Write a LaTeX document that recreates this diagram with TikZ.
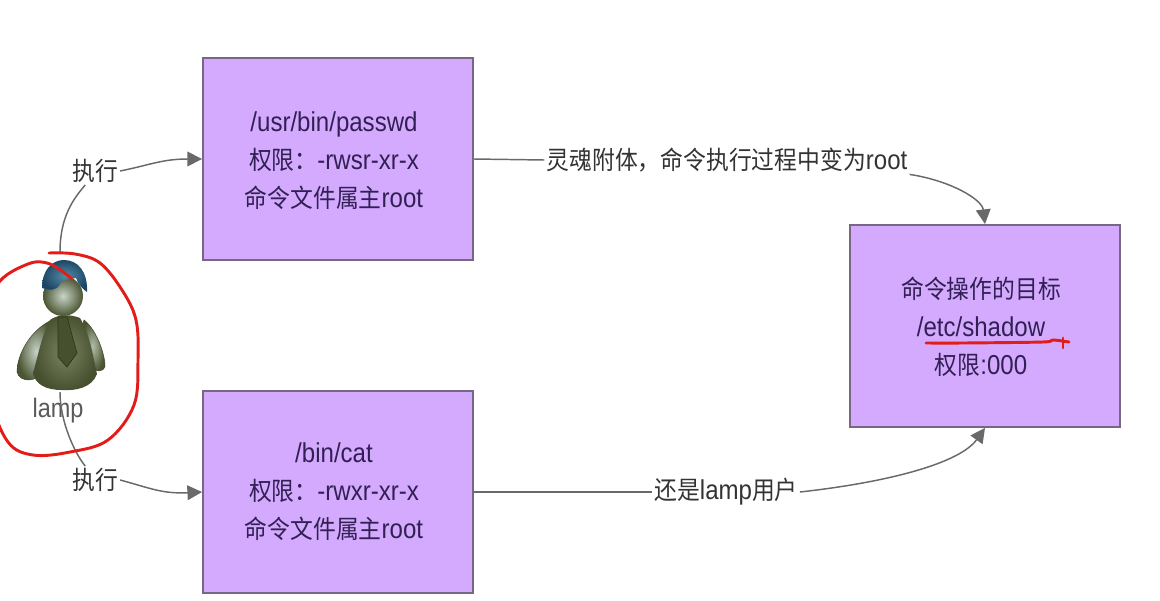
\documentclass[tikz,border=0pt]{standalone}
\usepackage{fontspec}
\setmainfont[FakeStretch=0.88]{Liberation Sans}
\newfontfamily\cjk[FakeStretch=0.9]{Noto Sans CJK SC}
\usetikzlibrary{arrows.meta}
\definecolor{boxfill}{RGB}{212,170,255}
\definecolor{boxline}{RGB}{118,104,130}
\definecolor{boxtext}{RGB}{50,32,84}
\definecolor{linkgray}{RGB}{105,105,105}
\definecolor{penred}{RGB}{226,28,24}
\definecolor{olive}{RGB}{88,100,58}
\definecolor{hairlight}{RGB}{84,140,165}
\definecolor{hairdark}{RGB}{28,70,100}
\definecolor{skinlight}{RGB}{200,212,200}
\tikzset{
  permbox/.style={draw=boxline,line width=1.4pt,fill=boxfill,minimum width=202.5pt,minimum height=151.5pt,inner sep=0pt},
  permtext/.style={text=boxtext,align=center,inner sep=0pt,font=\fontsize{20.5}{28.5}\selectfont},
  linklabel/.style={text=black!80,inner sep=1.5pt,font=\fontsize{20.5}{20}\selectfont},
  link/.style={draw=linkgray,line width=1.1pt},
  linktip/.style={link,-{Triangle[length=11pt,width=11pt]}},
  penstroke/.style={draw=penred,line width=2.2pt,line cap=round,line join=round},
}
\newcommand{\zh}[1]{{\cjk\fontsize{19}{28.5}\selectfont #1}}
\begin{document}
\begin{tikzpicture}[x=0.75pt,y=0.75pt,yscale=-1,xscale=1]
\clip (0,0) rectangle (1160,600);

% Boxes
\node[permbox] (passwd) at (338,159) {};
\node[permbox] (cat) at (338,492) {};
\node[permbox] (shadow) at (985,326) {};
\node[permtext] (passwdtext) at (334,161) {/usr/bin/passwd\\\zh{权限：}-rwsr-xr-x\\\zh{命令文件属主}root};
\node[permtext] (cattext) at (334,492) {/bin/cat\\\zh{权限：}-rwxr-xr-x\\\zh{命令文件属主}root};
\node[permtext] (shadowtext) at (981,327) {\zh{命令操作的目标}\\/etc/shadow\\\zh{权限}:000};

% Labels
\node[linklabel] (runup) at (95,171) {\zh{执行}};
\node[linklabel] (rundown) at (95,480) {\zh{执行}};
\node[linklabel] (soul) at (727,160) {\zh{灵魂附体，命令执行过程中变为}root};
\node[linklabel] (still) at (726,492) {\zh{还是}lamp\zh{用户}};
\node[text=black!65,inner sep=0pt,font=\fontsize{20}{20}\selectfont] (lamp) at (58,411) {lamp};
\coordinate (headtop) at (60,252);
\coordinate (feet) at (60,392);

% Connectors
\draw[link] (headtop) .. controls +(0,-35) and +(-12,14) .. (runup.-125);
\draw[linktip] (runup.east) .. controls +(30,-6) and +(-40,0) .. (passwd.west);
\draw[link] (feet) .. controls +(0,30) and +(-10,-12) .. (rundown.-235);
\draw[linktip] (rundown.east) .. controls +(30,8) and +(-40,2) .. (cat.west);
\draw[link] (passwd.east) -- (soul.west);
\draw[linktip] (soul.south east) .. controls +(40,6) and +(-3,-25) .. (shadow.north);
\draw[link] (cat.east) -- (still.west);
\draw[linktip] (still.east) .. controls +(90,-10) and +(-25,35) .. (shadow.south);

%Shape: person
\draw[olive!70!black,line width=0.4pt,inner color=skinlight,outer color=olive!85!black] (52,320) .. controls (30,330) and (17,355) .. (17,372) .. controls (20,383) and (36,382) .. (44,372) -- (56,335) -- cycle;
\draw[olive!70!black,line width=0.4pt,inner color=skinlight!80!olive,outer color=olive!85!black] (84,320) .. controls (97,330) and (105,355) .. (105,366) .. controls (103,373) and (96,372) .. (90,366) -- (80,335) -- cycle;
\shade[inner color=olive!80!white,outer color=olive!80!black] (50,320) .. controls (58,314) and (70,314) .. (80,318) .. controls (90,335) and (92,352) .. (97,374) .. controls (92,388) and (75,391) .. (62,390) .. controls (45,390) and (36,384) .. (33,374) .. controls (38,355) and (42,335) .. (50,320) -- cycle;
\draw[olive!50!black,fill=olive!80!black,line width=0.5pt] (58,317) -- (67,317) -- (77,353) -- (67,367) -- (58,357) -- cycle;
\shade[inner color=skinlight,outer color=olive!85!black] (63,296) circle (20);
\shade[inner color=hairlight,outer color=hairdark] (42,288) .. controls (42,270) and (52,260) .. (64,260) .. controls (78,260) and (88,272) .. (87,292) .. controls (84,290) and (78,285) .. (76,278) .. controls (70,280) and (64,278) .. (60,284) .. controls (56,292) and (48,290) .. (42,288) -- cycle;

%Red pen marks
\draw[penstroke] plot[smooth,tension=0.6] coordinates {(49,253) (75,254) (100,263) (122,290) (136,320) (138,360) (134,405) (108,440) (70,452) (33,455) (8,442) (-8,400) (-12,330) (-3,285) (28,264) (50,264) (72,279)};
\draw[penstroke] plot[smooth,tension=0.5] coordinates {(926,343) (963,343) (1043,342) (1053,340) (1069,342)};
\draw[penstroke] (1063,338) -- (1063,348);
\end{tikzpicture}
\end{document}
